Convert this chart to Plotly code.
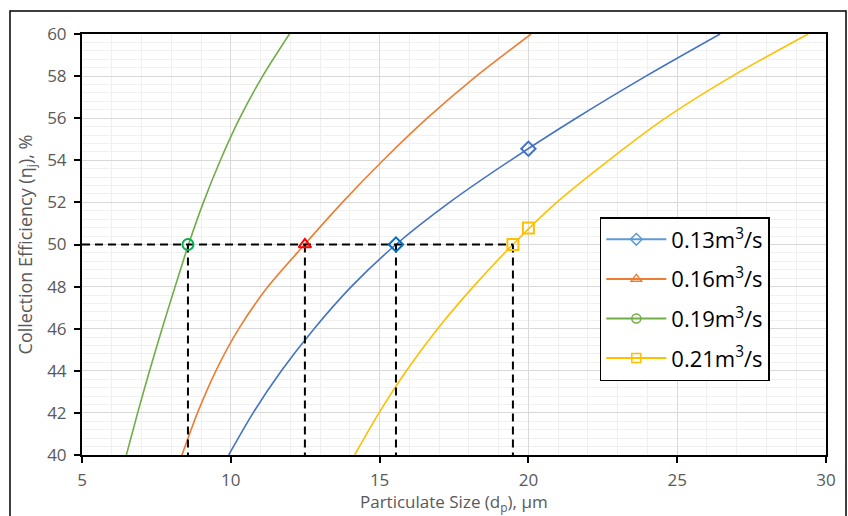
import plotly.graph_objects as go

# Collection efficiency levels (%) at which particle sizes were read
eff = [40, 42, 44, 46, 48, 50, 52, 54, 56, 58, 60]

# Particle size (um) for each flow rate
d_013 = [9.93, 10.75, 11.7, 12.8, 14.05, 15.55, 17.35, 19.4, 21.6, 23.95, 26.44]
d_016 = [8.36, 8.88, 9.5, 10.27, 11.25, 12.48, 13.75, 15.12, 16.6, 18.25, 20.09]
d_019 = [6.49, 6.87, 7.27, 7.69, 8.13, 8.58, 9.08, 9.65, 10.3, 11.07, 11.97]
d_021 = [14.16, 14.98, 15.9, 16.95, 18.15, 19.48, 20.95, 22.7, 24.6, 26.85, 29.4]

series_names = ["0.13m<sup>3</sup>/s", "0.16m<sup>3</sup>/s", "0.19m<sup>3</sup>/s", "0.21m<sup>3</sup>/s"]
line_colors = ["#4472C4", "#ED7D31", "#70AD47", "#FFC000"]
legend_colors = ["#5B9BD5", "#ED7D31", "#70AD47", "#FFC000"]
legend_symbols = ["diamond-open", "triangle-up-open", "circle-open", "square-open"]

# Intersection points at 50% efficiency
target_eff = 50
d50 = [15.55, 12.49, 8.56, 19.48]
d50_colors = ["#0070C0", "#FF0000", "#00B050", "#FFC000"]

# Extra marked data points
extra_x = [20, 20]
extra_y = [54.55, 50.78]
extra_colors = ["#4472C4", "#FFC000"]
extra_symbols = ["diamond-open", "square-open"]

x_min, x_max = 5, 30
y_min, y_max = 40, 60

x_title = "Particulate Size (d<sub>p</sub>), μm"
y_title = "Collection Efficiency (η<sub>j</sub>), %"

fig = go.Figure()

for dx, col in zip([d_013, d_016, d_019, d_021], line_colors):
    fig.add_trace(go.Scatter(x=dx, y=eff, mode="lines",
                             line=dict(color=col, width=1.6, shape="spline", smoothing=0.8),
                             showlegend=False, hoverinfo="skip"))

dash_style = dict(color="black", width=2, dash="8px,5px")
fig.add_trace(go.Scatter(x=[x_min, max(d50)], y=[target_eff, target_eff], mode="lines",
                         line=dash_style, showlegend=False, hoverinfo="skip"))
for xv in d50:
    fig.add_trace(go.Scatter(x=[xv, xv], y=[target_eff, y_min], mode="lines",
                             line=dash_style, showlegend=False, hoverinfo="skip"))

for xv, col, sym in zip(d50, d50_colors, legend_symbols):
    fig.add_trace(go.Scatter(x=[xv], y=[target_eff], mode="markers",
                             marker=dict(symbol=sym, size=11, color=col, line=dict(width=2, color=col)),
                             showlegend=False))

for xv, yv, col, sym in zip(extra_x, extra_y, extra_colors, extra_symbols):
    fig.add_trace(go.Scatter(x=[xv], y=[yv], mode="markers",
                             marker=dict(symbol=sym, size=11, color=col, line=dict(width=2, color=col)),
                             showlegend=False))

for i, (name, col, sym) in enumerate(zip(series_names, legend_colors, legend_symbols)):
    fig.add_trace(go.Scatter(x=[None], y=[None], mode="lines+markers", name=name,
                             legendgroup=f"g{i}",
                             line=dict(color=col, width=2),
                             marker=dict(symbol=sym, size=9, color=col, line=dict(width=1.5, color=col))))

font_family = "Open Sans, Lato, sans-serif"
axis_common = dict(
    showline=True, linecolor="black", linewidth=2, mirror=True,
    ticks="outside", ticklen=6, tickcolor="black", tickwidth=2,
    showgrid=True, gridcolor="#D9D9D9", gridwidth=1,
    zeroline=False, automargin=False,
    tickfont=dict(family=font_family, size=17, color="#595959"),
)

fig.update_xaxes(range=[x_min, x_max], dtick=5, tick0=5, ticklabelstandoff=3,
                 minor=dict(dtick=1, showgrid=True, gridcolor="#F0F0F0", gridwidth=1),
                 **axis_common)
fig.update_yaxes(range=[y_min, y_max], dtick=2, tick0=40, ticklabelstandoff=4,
                 minor=dict(dtick=0.4, showgrid=True, gridcolor="#F0F0F0", gridwidth=1),
                 title=dict(text=y_title,
                            font=dict(family=font_family, size=18, color="#595959"), standoff=10),
                 **axis_common)

fig.update_layout(
    width=848, height=516,
    margin=dict(l=82, r=22, t=34, b=61),
    paper_bgcolor="white", plot_bgcolor="white",
    legend=dict(x=0.696, y=(455 - 217) / 421, xanchor="left", yanchor="top",
                bordercolor="black", borderwidth=1.5, bgcolor="white",
                font=dict(family=font_family, size=22, color="black"),
                tracegroupgap=8, itemwidth=60),
    annotations=[dict(text=x_title, xref="paper", yref="paper",
                      x=(454 - 82) / 744, y=(455 - 516) / 421,
                      xanchor="center", yanchor="bottom", showarrow=False, borderpad=0,
                      font=dict(family=font_family, size=17, color="#595959"))],
    shapes=[dict(type="rect", xref="paper", yref="paper",
                 x0=(10 - 82) / 744, x1=(846 - 82) / 744,
                 y0=-0.2, y1=(455 - 11) / 421,
                 line=dict(color="black", width=1.5), layer="below")],
)

fig.write_html("out.html")
